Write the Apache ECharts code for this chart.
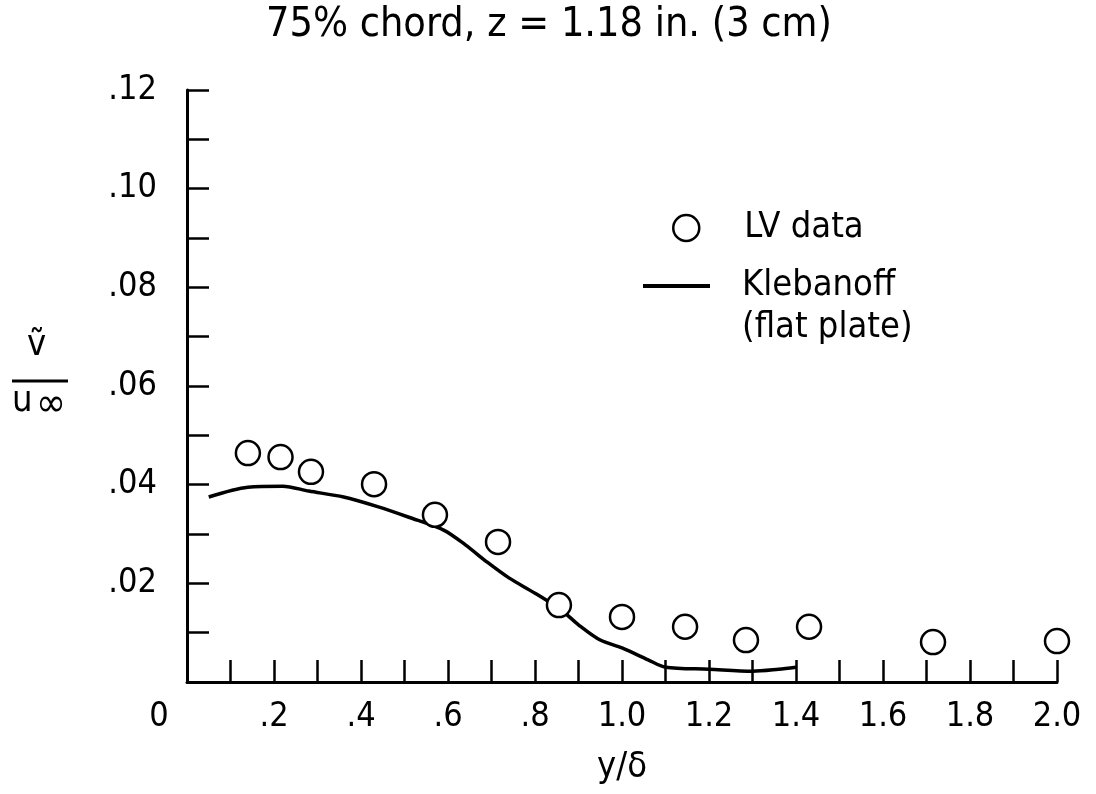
<!DOCTYPE html>
<html>
<head>
<meta charset="utf-8">
<script src="https://cdn.jsdelivr.net/npm/echarts@6/dist/echarts.min.js"></script>
<style>
  html, body { margin: 0; padding: 0; background: #fff; }
  #chart { width: 1096px; height: 794px; }
</style>
</head>
<body>
<div id="chart"></div>
<script>
// LV data points (y/delta, v~/u_inf)
var lvX = [0.14, 0.215, 0.285, 0.43, 0.57, 0.715, 0.855, 1.0, 1.145, 1.285, 1.43, 1.715, 2.0];
var lvY = [0.0464, 0.0456, 0.0426, 0.0401, 0.0339, 0.0284, 0.0156, 0.0132, 0.0112, 0.0085, 0.0112, 0.0081, 0.0083];

// Klebanoff flat plate curve
var klebX = [0.05, 0.14, 0.22, 0.28, 0.36, 0.44, 0.51, 0.59, 0.64, 0.69, 0.74, 0.80, 0.86, 0.90, 0.95, 1.00, 1.06, 1.10, 1.20, 1.30, 1.36, 1.40];
var klebY = [0.0375, 0.0395, 0.0397, 0.0387, 0.0375, 0.0355, 0.0334, 0.0308, 0.0278, 0.0243, 0.0211, 0.0180, 0.0146, 0.0116, 0.0085, 0.0069, 0.0045, 0.0030, 0.0026, 0.0022, 0.0026, 0.0030];

var font = '"Liberation Sans Narrow", "DejaVu Sans Condensed", sans-serif';

function xLabel(v) {
    var k = Math.round(v * 10);
    if (k === 0) return '{z|0}';
    if (k % 2) return '';
    if (k < 10) return '.' + k;
    return (k / 10).toFixed(1);
}

function yLabel(v) {
    var k = Math.round(v * 100);
    if (k === 0 || k % 2) return '';
    return '.' + (k < 10 ? '0' + k : k);
}

var chart = echarts.init(document.getElementById('chart'));

var option = {
    backgroundColor: '#fff',
    animation: false,
    textStyle: { fontFamily: font, color: '#000' },
    title: {
        text: '75% chord, z = 1.18 in. (3 cm)',
        left: 266,
        top: 5,
        padding: 0,
        textStyle: { fontFamily: font, fontSize: 41, fontWeight: 'normal', color: '#000' }
    },
    grid: { left: 187, right: 39, top: 90, bottom: 112 },
    legend: [
        {
            data: ['LV data'],
            left: 672, top: 210, padding: 0,
            itemWidth: 26, itemHeight: 26,
            itemStyle: { color: '#fff', borderColor: '#000', borderWidth: 2.5 },
            textStyle: { fontFamily: font, fontSize: 36, color: '#000', padding: [0, 0, 0, 40] }
        },
        {
            data: [{ name: 'Klebanoff', icon: 'rect' }],
            left: 643, top: 223, padding: 0,
            itemWidth: 67, itemHeight: 4,
            itemStyle: { color: '#000', borderWidth: 0 },
            formatter: function () { return ' \nKlebanoff\n(flat plate)'; },
            textStyle: { fontFamily: font, fontSize: 36, lineHeight: 42, color: '#000', padding: [0, 0, 0, 27] }
        }
    ],
    xAxis: {
        type: 'value',
        min: 0, max: 2.0, interval: 0.1,
        name: 'y/δ',
        nameLocation: 'middle',
        nameGap: 68,
        nameTextStyle: { fontFamily: font, fontSize: 36, color: '#000' },
        axisLine: { onZero: false, lineStyle: { color: '#000', width: 3 } },
        axisTick: { inside: true, length: 22, lineStyle: { color: '#000', width: 2.5 } },
        splitLine: { show: false },
        axisLabel: {
            margin: 18,
            fontFamily: font, fontSize: 34, color: '#000',
            showMinLabel: true, showMaxLabel: true,
            formatter: xLabel,
            rich: { z: { fontFamily: font, fontSize: 34, color: '#000', padding: [0, 56, 0, 0] } }
        }
    },
    yAxis: {
        type: 'value',
        min: 0, max: 0.12, interval: 0.01,
        axisLine: { onZero: false, lineStyle: { color: '#000', width: 3 } },
        axisTick: { inside: true, length: 22, lineStyle: { color: '#000', width: 2.5 } },
        splitLine: { show: false },
        axisLabel: {
            margin: 30,
            fontFamily: font, fontSize: 34, color: '#000',
            formatter: yLabel
        }
    },
    graphic: [
        { type: 'text', left: 27, top: 328, style: { text: 'ṽ', font: '36px ' + font, fill: '#000' } },
        { type: 'line', shape: { x1: 12, y1: 381, x2: 68, y2: 381 }, style: { stroke: '#000', lineWidth: 3 } },
        { type: 'text', left: 12, top: 384, style: { text: 'u', font: '36px ' + font, fill: '#000' } },
        { type: 'text', left: 36, top: 386, style: { text: '∞', font: '40px ' + font, fill: '#000' } }
    ],
    series: [
        {
            name: 'Klebanoff',
            type: 'line',
            data: klebX.map(function (x, i) { return [x, klebY[i]]; }),
            smooth: 0.3,
            symbol: 'none',
            itemStyle: { color: '#000' },
            lineStyle: { color: '#000', width: 3.5 },
            z: 2
        },
        {
            name: 'LV data',
            type: 'scatter',
            data: lvX.map(function (x, i) { return [x, lvY[i]]; }),
            symbol: 'circle',
            symbolSize: 24,
            itemStyle: { color: '#fff', borderColor: '#000', borderWidth: 2.5, opacity: 1 },
            z: 3
        }
    ]
};

chart.setOption(option);
</script>
</body>
</html>
